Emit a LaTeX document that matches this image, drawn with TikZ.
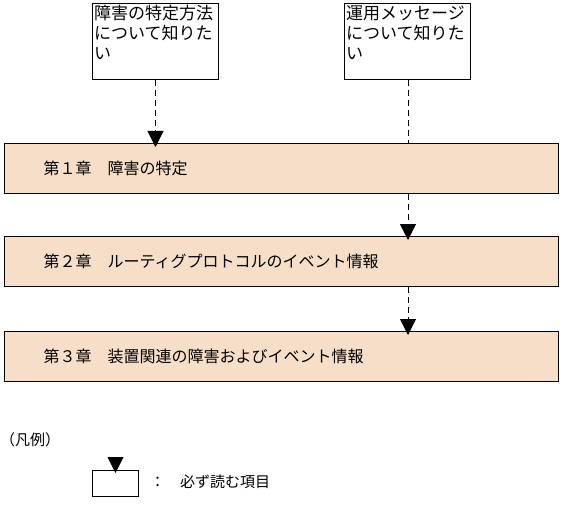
\documentclass[tikz,border=0pt]{standalone}
\usepackage{fontspec}
\setmainfont{Noto Sans CJK JP}
\usetikzlibrary{arrows.meta,calc}
\definecolor{chapfill}{RGB}{246,222,200}
\begin{document}
\begin{tikzpicture}[x=1pt,y=-1pt,
  wish/.style={draw, line width=1pt, fill=white, minimum width=126pt, minimum height=76pt, anchor=north west, inner sep=0pt},
  wishtext/.style={anchor=north west, align=left, inner sep=2pt, font=\fontsize{17}{20}\selectfont},
  chap/.style={draw, line width=1pt, fill=chapfill, minimum height=50pt, text width=476pt, inner xsep=39pt, align=left, anchor=north west, font=\fontsize{16}{20}\selectfont},
  conn/.style={line width=1pt, dash pattern=on 6pt off 4pt},
  connarrow/.style={conn, -{Triangle[width=16pt,length=16pt]}, shorten >=-4pt},
  legtext/.style={anchor=west, inner sep=0pt, font=\fontsize{15}{18}\selectfont}]
\useasboundingbox (0,0) rectangle (562,524);
% top boxes
\node[wish] (q1) at (92,3) {};
\node[wishtext] (q1t) at (q1.north west) {障害の特定方法\\について知りた\\い};
\node[wish] (q2) at (344,3) {};
\node[wishtext] (q2t) at (q2.north west) {運用メッセージ\\について知りた\\い};
% chapter boxes
\node[chap] (c1) at (4,143) {第１章　障害の特定};
\node[chap] (c2) at (4,236) {第２章　ルーティグプロトコルのイベント情報};
\node[chap] (c3) at (4,331) {第３章　装置関連の障害およびイベント情報};
% connectors
\draw[connarrow] (q1.south) -- (q1.south |- c1.north);
\coordinate (rx) at (408,0);
\draw[conn] (rx |- q2.south) -- (rx |- c1.north);
\draw[connarrow] (rx |- c1.south) -- (rx |- c2.north);
\draw[connarrow] (rx |- c2.south) -- (rx |- c3.north);
% legend
\node[legtext] (lgt) at (0,440) {（凡例）};
\node[draw, line width=1pt, fill=white, minimum width=46pt, minimum height=26pt, anchor=north west, inner sep=0pt] (lg) at (92,470) {};
\fill ($(lg.north)+(-8,-13)$) -- ($(lg.north)+(8,-13)$) -- ($(lg.north)+(0,3)$) -- cycle;
\node[legtext] (lgl) at (150,482) {：　必ず読む項目};
\end{tikzpicture}
\end{document}
